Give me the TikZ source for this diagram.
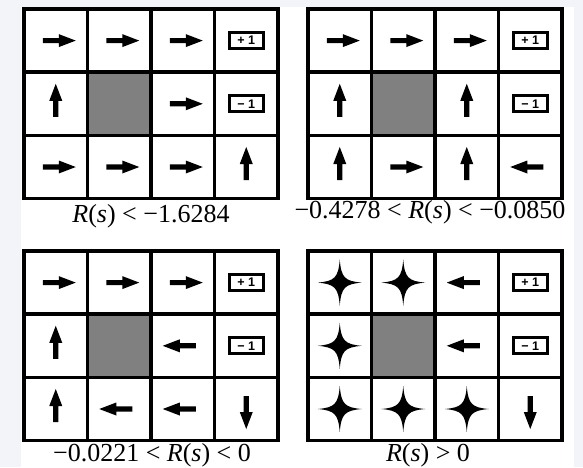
\documentclass[tikz,border=0pt]{standalone}
\usepackage{fontspec}
\setmainfont{Liberation Serif}
\newfontfamily\rewardfont{Liberation Sans}

\definecolor{pagebg}{HTML}{F2F4F9}
\definecolor{blocked}{HTML}{808080}

\def\cw{63.5}
\def\ch{63.2}

\tikzset{
	wall/.style={line width=3.5pt},
	reward/.style={draw,line width=3.2pt,fill=white,minimum width=34pt,minimum height=16pt,inner sep=0pt,
		font=\rewardfont\bfseries\fontsize{12.5}{12.5}\selectfont},
	caption/.style={anchor=base,inner sep=0pt,font=\fontsize{26}{26}\selectfont},
	pics/move/.style={code={
		\fill (-13,-2.6) -- (3,-2.6) -- (3,-6.5) -- (20,0) -- (3,6.5) -- (3,2.6) -- (-13,2.6) -- cycle;
	}},
	pics/anymove/.style={code={
		\fill (22,0) .. controls (5,1.5) and (1.5,5) .. (0,23)
			.. controls (-1.5,5) and (-5,1.5) .. (-22,0)
			.. controls (-5,-1.5) and (-1.5,-5) .. (0,-23)
			.. controls (1.5,-5) and (5,-1.5) .. cycle;
	}}
}

% frame of one 4x3 world: blocked cell, rewards, walls
\newcommand\worldframe{
	\fill[blocked] (\cw,\ch) rectangle (2*\cw,2*\ch);
	\node[reward] (plus) at ({3.5*\cw},{0.5*\ch}) {+ 1};
	\node[reward] (minus) at ({3.5*\cw},{1.5*\ch}) {− 1};
	\foreach \i in {1,2,3}
		\draw[wall] (\i*\cw,0) -- (\i*\cw,3*\ch);
	\foreach \j in {1,2}
		\draw[wall] (0,\j*\ch) -- (4*\cw,\j*\ch);
	\draw[wall] (0,0) rectangle (4*\cw,3*\ch);
}

\begin{document}
\begin{tikzpicture}[x=1pt,y=-1pt]
	\useasboundingbox (0,0) rectangle (583,467);
	\fill[pagebg] (0,0) rectangle (583,467);
	\fill[white] (21,7) rectangle (574,467);

	% top left
	\begin{scope}[shift={(24,9)}]
		\worldframe
		\foreach \c/\r/\a in {0/0/0,1/0/0,2/0/0,0/1/90,2/1/0,0/2/0,1/2/0,2/2/0,3/2/90}
			\pic[rotate=\a] at ({(\c+0.5)*\cw},{(\r+0.5)*\ch}) {move};
	\end{scope}
	\node[caption] (capa) at (151,222) {\textit{R}(\textit{s}) < −1.6284};

	% top right
	\begin{scope}[shift={(308,9)}]
		\worldframe
		\foreach \c/\r/\a in {0/0/0,1/0/0,2/0/0,0/1/90,2/1/90,0/2/90,1/2/0,2/2/90,3/2/180}
			\pic[rotate=\a] at ({(\c+0.5)*\cw},{(\r+0.5)*\ch}) {move};
	\end{scope}
	\node[caption] (capb) at (430,218) {−0.4278 < \textit{R}(\textit{s}) < −0.0850};

	% bottom left
	\begin{scope}[shift={(24,251)}]
		\worldframe
		\foreach \c/\r/\a in {0/0/0,1/0/0,2/0/0,0/1/90,2/1/180,0/2/90,1/2/180,2/2/180,3/2/270}
			\pic[rotate=\a] at ({(\c+0.5)*\cw},{(\r+0.5)*\ch}) {move};
	\end{scope}
	\node[caption] (capc) at (152,461) {−0.0221 < \textit{R}(\textit{s}) < 0};

	% bottom right
	\begin{scope}[shift={(308,251)}]
		\worldframe
		\foreach \c/\r/\a in {2/0/180,2/1/180,3/2/270}
			\pic[rotate=\a] at ({(\c+0.5)*\cw},{(\r+0.5)*\ch}) {move};
		\foreach \c/\r in {0/0,1/0,0/1,0/2,1/2,2/2}
			\pic at ({(\c+0.5)*\cw},{(\r+0.5)*\ch}) {anymove};
	\end{scope}
	\node[caption] (capd) at (428,461) {\textit{R}(\textit{s}) > 0};
\end{tikzpicture}
\end{document}
